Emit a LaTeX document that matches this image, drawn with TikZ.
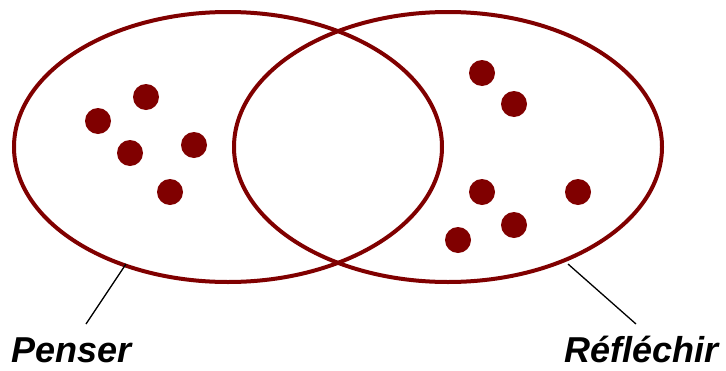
\documentclass[tikz,border=0pt]{standalone}
\usepackage{fontspec}
\setmainfont{Liberation Sans}
\definecolor{dred}{RGB}{128,0,0}
\begin{document}
\begin{tikzpicture}[x=1pt,y=-1pt,
  setring/.style={draw=dred,line width=4pt},
  dot/.style={circle,fill=dred,minimum size=26pt,inner sep=0pt},
  lbl/.style={font=\fontsize{36}{40}\selectfont\bfseries\itshape,anchor=base west,inner sep=0pt},
  pointer/.style={draw=black,line width=1.3pt}]
\useasboundingbox (0,0) rectangle (726,370);
\draw[setring] (228,147) ellipse [x radius=214, y radius=135];
\draw[setring] (448,147) ellipse [x radius=214, y radius=135];
\node[dot] (a1) at (146,97) {};
\node[dot] (a2) at (98,121) {};
\node[dot] (a3) at (130,153) {};
\node[dot] (a4) at (194,145) {};
\node[dot] (a5) at (170,192) {};
\node[dot] (b1) at (482,73) {};
\node[dot] (b2) at (514,104) {};
\node[dot] (b3) at (482,192) {};
\node[dot] (b4) at (578,192) {};
\node[dot] (b5) at (514,225) {};
\node[dot] (b6) at (458,240) {};
\node[lbl] (pen) at (11,362) {Penser};
\node[lbl] (ref) at (564,362) {Réfléchir};
\coordinate (p1) at (126,264);
\coordinate (p2) at (86,324);
\coordinate (r1) at (568,264);
\coordinate (r2) at (636,324);
\draw[pointer] (p1) -- (p2);
\draw[pointer] (r1) -- (r2);
\end{tikzpicture}
\end{document}
